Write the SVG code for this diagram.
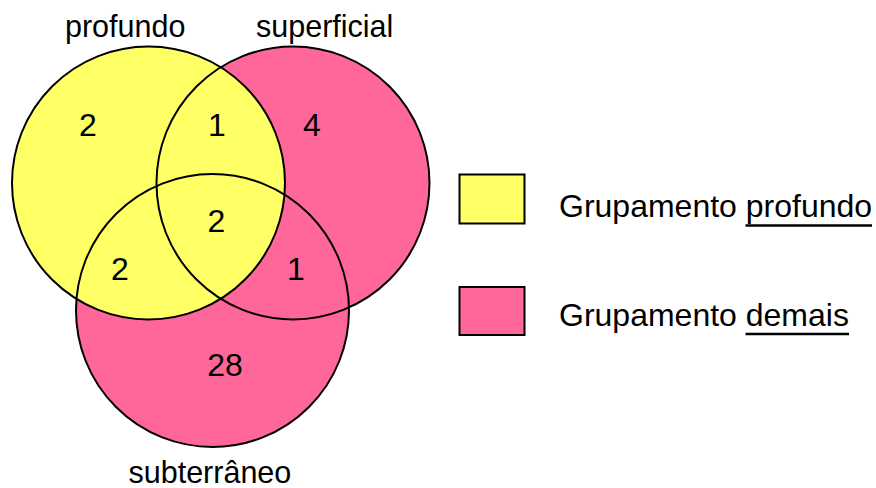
<svg xmlns="http://www.w3.org/2000/svg" width="876" height="488" viewBox="0 0 876 488">
  <style>
    .set { stroke: #000; stroke-width: 2; }
    .yellow { fill: #FFFF66; }
    .pink { fill: #FF6699; }
    .outline { fill: none; stroke: #000; stroke-width: 2; }
    .label { font-family: "Liberation Sans", Arial, sans-serif; font-size: 30.5px; fill: #000; }
    .count { font-family: "Liberation Sans", Arial, sans-serif; font-size: 32px; fill: #000; text-anchor: middle; }
    .legend { font-family: "Liberation Sans", Arial, sans-serif; font-size: 32px; fill: #000; }
    .uline { stroke: #000; stroke-width: 2.5; }
  </style>

  <!-- Set fills: pink sets first, the "profundo" set painted over them -->
  <g id="fills">
    <circle class="pink" cx="293" cy="183" r="136.5"/>
    <circle class="pink" cx="212.5" cy="310.5" r="136.5"/>
    <circle class="yellow" cx="148.5" cy="183" r="136.5"/>
  </g>

  <!-- Set outlines and names -->
  <g id="set-profundo">
    <circle class="outline" cx="148.5" cy="183" r="136.5"/>
    <text class="label" x="65" y="37">profundo</text>
  </g>
  <g id="set-superficial">
    <circle class="outline" cx="293" cy="183" r="136.5"/>
    <text class="label" x="256" y="37">superficial</text>
  </g>
  <g id="set-subterraneo">
    <circle class="outline" cx="212.5" cy="310.5" r="136.5"/>
    <text class="label" x="128.5" y="483">subterrâneo</text>
  </g>

  <!-- Region counts -->
  <g id="counts">
    <text class="count" x="88" y="136">2</text>
    <text class="count" x="217" y="136">1</text>
    <text class="count" x="312" y="136">4</text>
    <text class="count" x="216.5" y="232">2</text>
    <text class="count" x="120" y="280">2</text>
    <text class="count" x="296" y="280">1</text>
    <text class="count" x="225" y="376">28</text>
  </g>

  <!-- Legend -->
  <g id="legend-profundo">
    <rect class="yellow set" x="459.5" y="174.5" width="65" height="49"/>
    <text class="legend" x="559" y="217">Grupamento profundo</text>
    <line class="uline" x1="745.5" y1="225.5" x2="872" y2="225.5"/>
  </g>
  <g id="legend-demais">
    <rect class="pink set" x="459.5" y="287" width="65" height="48"/>
    <text class="legend" x="559" y="326">Grupamento demais</text>
    <line class="uline" x1="745.5" y1="334" x2="849" y2="334"/>
  </g>
</svg>
